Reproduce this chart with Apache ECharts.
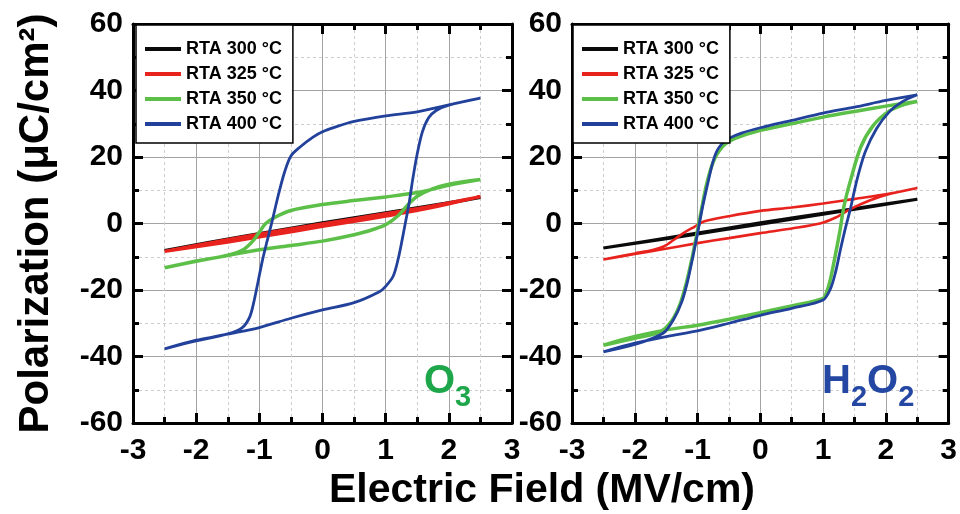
<!DOCTYPE html>
<html>
<head>
<meta charset="utf-8">
<script src="https://cdn.jsdelivr.net/npm/echarts@6/dist/echarts.min.js"></script>
<style>html,body{margin:0;padding:0;background:#fff}#chart{width:960px;height:514px}</style>
</head>
<body>
<div id="chart"></div>
<script>
// ---- names, colours, axis ranges ----
const seriesNames = ['RTA 300 °C', 'RTA 325 °C', 'RTA 350 °C', 'RTA 400 °C'];
const seriesColors = ['#0a0a0a', '#e8231e', '#5cbf48', '#22419b'];
const fieldRange = [-3, 3];
const fieldStep = 1;
const polRange = [-60, 60];
const polStep = 20;
const xTitle = 'Electric Field (MV/cm)';
const yTitle = 'Polarization (μC/cm²)';

// ---- O3 panel: loops (lower branch E up, then upper branch E down) ----
const o3_300_E = [-2.5, -1.25, 0, 1.25, 2.5, 1.25, 0, -1.25, -2.5];
const o3_300_P = [-8.1, -4.3, -0.3, 3.6, 7.8, 4.0, 0.2, -3.8, -8.1];

const o3_325_E = [-2.5, -1.5, -0.5, 0, 0.5, 1.0, 1.5, 2.0, 2.5, 2.0, 1.5, 1.0, 0.5, 0, -0.5, -1.5, -2.5];
const o3_325_P = [-8.4, -5.6, -2.5, -0.9, 0.6, 2.2, 3.9, 5.9, 8.1, 6.2, 4.5, 3.0, 1.4, -0.1, -1.6, -4.8, -8.4];

const o3_350_E = [-2.5, -2.0, -1.5, -1.0, -0.5, 0, 0.5, 0.8, 1.0, 1.2, 1.35, 1.5, 1.75, 2.0, 2.5,
                  2.0, 1.5, 1.0, 0.5, 0, -0.5, -0.75, -0.9, -1.0, -1.1, -1.25, -1.5, -2.0, -2.5];
const o3_350_P = [-13.3, -11.4, -9.6, -7.9, -6.6, -5.3, -3.4, -1.8, -0.4, 2.4, 5.6, 8.2, 10.5, 11.8, 13.2,
                  11.5, 9.3, 8.0, 6.9, 5.7, 3.9, 1.9, 0.0, -2.6, -5.2, -7.8, -9.5, -11.3, -13.3];

const o3_400_E = [-2.5, -2.0, -1.5, -1.0, -0.5, 0, 0.5, 0.9, 1.0, 1.12, 1.2, 1.26, 1.31, 1.37, 1.43, 1.5, 1.58, 1.68, 1.8, 2.0, 2.5,
                  2.0, 1.5, 1.0, 0.5, 0.2, 0, -0.15, -0.35, -0.5, -0.6, -0.7, -0.8, -0.88, -0.95, -1.02, -1.08, -1.15, -1.27, -1.5, -2.0, -2.5];
const o3_400_P = [-37.7, -35.3, -33.3, -31.3, -28.5, -26.0, -23.8, -20.5, -18.9, -15.8, -10.5, -5.0, 0, 6.0, 13.5, 21.0, 27.5, 31.8, 34.0, 35.6, 37.7,
                  35.7, 33.6, 32.4, 30.7, 29.0, 27.6, 26.0, 23.1, 20.3, 15.5, 8.5, 0.5, -5.5, -11.0, -17.5, -23.0, -28.0, -31.3, -33.2, -35.1, -37.7];

// ---- H2O2 panel ----
const h2o2_300_E = [-2.5, -1.25, 0, 1.25, 2.5, 1.25, 0, -1.25, -2.5];
const h2o2_300_P = [-7.4, -3.9, -0.2, 3.5, 7.3, 3.8, 0.2, -3.6, -7.4];

const h2o2_325_E = [-2.5, -2.0, -1.6, -1.0, -0.5, 0, 0.5, 0.95, 1.2, 1.45, 1.75, 2.0, 2.5,
                    2.0, 1.5, 1.0, 0.5, 0, -0.5, -0.9, -1.05, -1.2, -1.37, -1.53, -1.7, -2.0, -2.5];
const h2o2_325_P = [-10.8, -9.2, -7.9, -5.9, -4.4, -2.9, -1.5, 0.0, 1.8, 4.5, 7.0, 8.6, 10.7,
                    8.8, 7.4, 6.0, 4.8, 3.8, 2.2, 0.6, -1.0, -2.6, -4.8, -6.8, -7.9, -9.0, -10.8];

const h2o2_350_E = [-2.5, -2.0, -1.5, -1.0, -0.5, 0, 0.5, 1.0, 1.05, 1.12, 1.2, 1.27, 1.33, 1.44, 1.6, 1.8, 2.05, 2.3, 2.5,
                    2.0, 1.5, 1.0, 0.5, 0, -0.4, -0.55, -0.65, -0.72, -0.78, -0.86, -0.94, -1.02, -1.1, -1.18, -1.28, -1.42, -1.6, -2.0, -2.5];
const h2o2_350_P = [-36.6, -34.0, -32.0, -30.6, -28.8, -26.8, -24.8, -22.5, -21.0, -16.5, -9.0, -2.0, 5.0, 13.2, 23.0, 29.5, 33.8, 35.8, 36.7,
                    35.3, 33.7, 32.0, 30.0, 28.0, 25.6, 24.0, 22.0, 19.8, 17.0, 11.5, 4.0, -4.0, -11.5, -18.0, -24.3, -29.5, -32.6, -34.5, -36.6];

const h2o2_400_E = [-2.5, -2.0, -1.5, -1.0, -0.5, 0, 0.5, 1.0, 1.12, 1.2, 1.28, 1.36, 1.43, 1.54, 1.67, 1.85, 2.05, 2.25, 2.5,
                    2.0, 1.5, 1.0, 0.5, 0, -0.3, -0.5, -0.62, -0.7, -0.77, -0.85, -0.92, -1.0, -1.08, -1.16, -1.25, -1.38, -1.55, -2.0, -2.5];
const h2o2_400_P = [-38.6, -36.0, -34.0, -32.3, -30.0, -27.6, -25.5, -23.0, -19.5, -14.5, -7.5, -1.0, 4.0, 13.2, 21.5, 28.5, 33.5, 36.5, 38.7,
                    37.0, 35.0, 33.2, 31.0, 28.8, 27.2, 25.6, 23.8, 21.5, 17.5, 11.0, 5.0, -3.0, -10.5, -17.5, -23.5, -28.8, -33.0, -36.4, -38.6];

// ---- build ----
const FONT = "'Liberation Sans', Arial, Helvetica, sans-serif";
function pts(E, P) { return E.map((e, i) => [e, P[i]]); }

const panels = [
  { loops: [[o3_300_E, o3_300_P], [o3_325_E, o3_325_P], [o3_350_E, o3_350_P], [o3_400_E, o3_400_P]],
    widths: [3, 3.2, 3.5, 2.8] },
  { loops: [[h2o2_300_E, h2o2_300_P], [h2o2_325_E, h2o2_325_P], [h2o2_350_E, h2o2_350_P], [h2o2_400_E, h2o2_400_P]],
    widths: [3, 2.6, 3.5, 2.8] }
];

const grid = [
  { left: 133, top: 24, width: 379, height: 399 },
  { left: 572, top: 24, width: 380, height: 399 }
];

function rangeOf(isX) {
  return { min: isX ? fieldRange[0] : polRange[0], max: isX ? fieldRange[1] : polRange[1], interval: isX ? fieldStep : polStep };
}
// frame axes: thick black line with inward ticks (major + minor)
function frameAxis(kind, g, pos, labels, extra) {
  const isX = kind === 'x';
  return Object.assign({
    gridIndex: g, type: 'value', position: pos,
    axisLine: { show: true, onZero: false, lineStyle: { color: '#000', width: 3 } },
    axisTick: { show: true, inside: true, length: 10, lineStyle: { color: '#000', width: 3 } },
    minorTick: { show: true, splitNumber: 2, length: 6, lineStyle: { color: '#000', width: 3 } },
    axisLabel: { show: labels, color: '#000', fontSize: 30, fontWeight: 'bold', fontFamily: FONT, margin: isX ? 13 : 10 },
    splitLine: { show: false }, minorSplitLine: { show: false }
  }, rangeOf(isX), extra || {});
}
// grid-line axes: solid major and dashed minor grid
function gridAxis(kind, g) {
  const isX = kind === 'x';
  return Object.assign({
    gridIndex: g, type: 'value', position: isX ? 'bottom' : 'left',
    axisLine: { show: false }, axisTick: { show: false }, axisLabel: { show: false },
    minorTick: { show: false, splitNumber: 2 },
    splitLine: { show: true, lineStyle: { color: '#a3a3a3', width: 1 } },
    minorSplitLine: { show: true, lineStyle: { color: '#cccccc', width: 1, type: [3, 3] } }
  }, rangeOf(isX));
}

const xAxis = [], yAxis = [];
grid.forEach((gr, g) => {
  xAxis.push(frameAxis('x', g, 'bottom', true));
  xAxis.push(frameAxis('x', g, 'top', false));
  xAxis.push(gridAxis('x', g));
  const nameOpts = g === 0 ? {
    name: yTitle, nameLocation: 'middle', nameGap: 76,
    nameTextStyle: { fontSize: 42, fontWeight: 'bold', color: '#000', fontFamily: FONT }
  } : {};
  yAxis.push(frameAxis('y', g, 'left', true, nameOpts));
  yAxis.push(frameAxis('y', g, 'right', false));
  yAxis.push(gridAxis('y', g));
});

const series = [];
panels.forEach((p, g) => {
  p.loops.forEach((lp, i) => {
    series.push({
      type: 'line', name: seriesNames[i], xAxisIndex: g * 3, yAxisIndex: g * 3,
      data: pts(lp[0], lp[1]), symbol: 'none', showSymbol: false, smooth: 0.3,
      color: seriesColors[i],
      lineStyle: { color: seriesColors[i], width: p.widths[i] },
      itemStyle: { color: seriesColors[i] }, z: 3
    });
  });
});

function legendAt(left) {
  return {
    data: seriesNames, orient: 'vertical', left: left, top: 25,
    icon: 'rect', itemWidth: 36, itemHeight: 4, itemGap: 7, itemTextGap: 3,
    padding: [15, 11, 10, 9], backgroundColor: '#fff', borderColor: '#000', borderWidth: 1.5,
    textStyle: { fontSize: 18, fontWeight: 'bold', color: '#000', fontFamily: FONT },
    selectedMode: false, z: 8
  };
}

function chemLabel(x, text, color) {
  return {
    type: 'text', x: x, y: 361.5, z: 12, silent: true,
    style: {
      text: text, align: 'left', verticalAlign: 'top', fill: color,
      rich: {
        m: { fontSize: 40, lineHeight: 40, fontWeight: 'bold', fontFamily: FONT, fill: color, verticalAlign: 'top' },
        s: { fontSize: 29, lineHeight: 29, fontWeight: 'bold', fontFamily: FONT, fill: color, verticalAlign: 'top', padding: [21.5, 0, 0, 0] }
      }
    }
  };
}

const option = {
  animation: false,
  backgroundColor: '#fff',
  grid: grid,
  xAxis: xAxis,
  yAxis: yAxis,
  legend: [legendAt(136), legendAt(573)],
  series: series,
  graphic: { elements: [
    { type: 'rect', shape: { x: 407, y: 345, width: 94, height: 67 }, style: { fill: '#fff' }, silent: true },
    { type: 'rect', shape: { x: 805, y: 345, width: 136, height: 67 }, style: { fill: '#fff' }, silent: true },
    chemLabel(424, '{m|O}{s|3}', '#1ea64b'),
    chemLabel(822, '{m|H}{s|2}{m|O}{s|2}', '#2447a3'),
    { type: 'text', x: 542, y: 491, z: 12, silent: true,
      style: { text: xTitle, align: 'center', verticalAlign: 'middle', fill: '#000',
               fontSize: 41, fontWeight: 'bold', fontFamily: FONT } }
  ] }
};

const chart = echarts.init(document.getElementById('chart'), null, { renderer: 'canvas' });
chart.setOption(option);
</script>
</body>
</html>
